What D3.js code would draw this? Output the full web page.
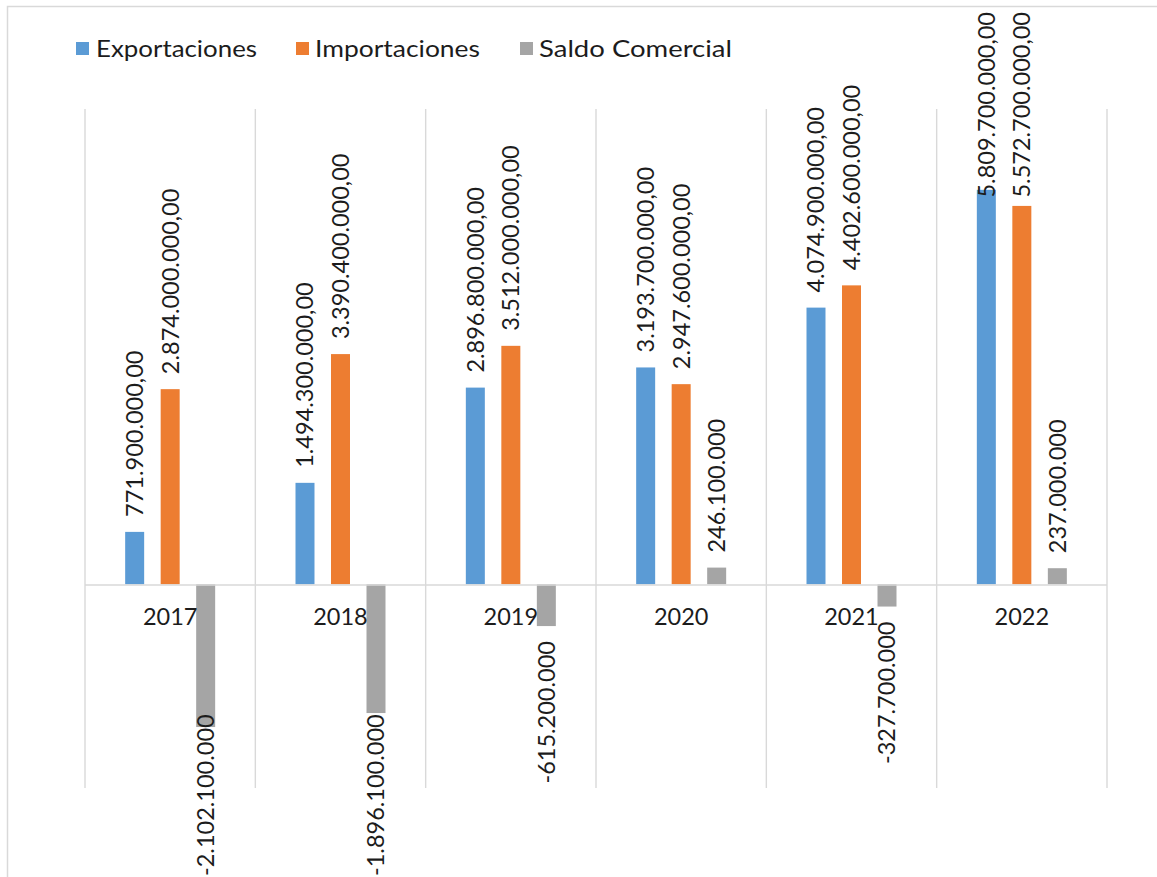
<!DOCTYPE html>
<html>
<head>
<meta charset="utf-8">
<script src="https://cdn.jsdelivr.net/npm/d3@7"></script>
<style>
  html, body { margin: 0; padding: 0; background: #fff; }
  svg { display: block; }
  text { font-family: "Century Gothic", "URW Gothic", Lato, "Noto Sans", sans-serif; fill: #1c1c1c; font-weight: 400; }
</style>
</head>
<body>
<svg id="chart" width="1157" height="877"></svg>
<script>
// ---- data ----
const years = ["2017", "2018", "2019", "2020", "2021", "2022"];
const seriesNames = ["Exportaciones", "Importaciones", "Saldo Comercial"];
const exportaciones = [771900000, 1494300000, 2896800000, 3193700000, 4074900000, 5809700000];
const importaciones = [2874000000, 3390400000, 3512000000, 2947600000, 4402600000, 5572700000];
const saldoComercial = [-2102100000, -1896100000, -615200000, 246100000, -327700000, 237000000];
const valueDomain = [-3000000000, 7000000000];
const labelDecimals = [2, 2, 0];
const colors = ["#5B9BD5", "#ED7D31", "#A5A5A5"];

const seriesValues = [exportaciones, importaciones, saldoComercial];

const svg = d3.select("#chart");

// chart border
svg.append("rect").attr("x", 7.5).attr("y", 6.5).attr("width", 1300).attr("height", 1000)
  .attr("fill", "none").attr("stroke", "#D9D9D9").attr("stroke-width", 1.5);

const locale = d3.formatLocale({ decimal: ",", thousands: ".", grouping: [3], currency: ["", ""], minus: "-" });
const fmts = labelDecimals.map(d => locale.format(",." + d + "f"));

const x0 = d3.scaleBand().domain(years).range([85, 1107]).paddingInner(0).paddingOuter(0);
const groupW = 90;
const off = (x0.bandwidth() - groupW) / 2;
const x1 = d3.scaleBand().domain(seriesNames).range([off, off + groupW]).paddingInner(0.465).paddingOuter(0);
const y = d3.scaleLinear().domain(valueDomain).range([788, 109]);

const grid = svg.append("g");
const bounds = years.map(yv => x0(yv)).concat([x0(years[years.length - 1]) + x0.bandwidth()]);
grid.selectAll("line").data(bounds).join("line")
  .attr("x1", d => d).attr("x2", d => d)
  .attr("y1", y(valueDomain[1])).attr("y2", y(valueDomain[0]))
  .attr("stroke", "#D9D9D9").attr("stroke-width", 1.4);

// bars
const bars = svg.append("g");
seriesNames.forEach((name, si) => {
  bars.selectAll(null).data(years).join("rect")
    .attr("x", (yr) => x0(yr) + x1(name))
    .attr("width", x1.bandwidth())
    .attr("y", (yr, i) => Math.min(y(seriesValues[si][i]), y(0)))
    .attr("height", (yr, i) => Math.abs(y(seriesValues[si][i]) - y(0)))
    .attr("fill", colors[si]);
});

// axis line
svg.append("line").attr("x1", 85).attr("x2", 1107).attr("y1", y(0) + 0.7).attr("y2", y(0) + 0.7)
  .attr("stroke", "#D9D9D9").attr("stroke-width", 1.4);

// category labels
svg.append("g").selectAll("text").data(years).join("text")
  .attr("x", d => x0(d) + x0.bandwidth() / 2)
  .attr("y", 625)
  .attr("text-anchor", "middle")
  .attr("font-size", 23.5)
  .text(d => d);

// data labels
const labels = svg.append("g");
const gap = 15, topLimit = 12, bottomLimit = 876;
seriesNames.forEach((name, si) => {
  years.forEach((yr, i) => {
    const v = seriesValues[si][i];
    const cx = x0(yr) + x1(name) + x1.bandwidth() / 2;
    const t = labels.append("text")
      .attr("font-size", 23.5)
      .attr("text-anchor", "start")
      .attr("dy", "0.36em")
      .text(fmts[si](v));
    const len = t.node().getComputedTextLength();
    let startY;
    if (v >= 0) {
      startY = y(v) - gap;
      if (startY - len < topLimit) startY = topLimit + len;
    } else {
      startY = y(v) + gap + len;
      if (startY > bottomLimit) startY = bottomLimit;
    }
    t.attr("transform", `translate(${cx},${startY}) rotate(-90)`);
  });
});

// legend
const legendItems = [
  { sx: 76, tx: 96, w: 161 },
  { sx: 296, tx: 315, w: 165 },
  { sx: 520, tx: 539, w: 193 }
];
const lg = svg.append("g");
seriesNames.forEach((name, i) => {
  lg.append("rect").attr("x", legendItems[i].sx).attr("y", 42).attr("width", 13).attr("height", 13).attr("fill", colors[i]);
  lg.append("text").attr("x", legendItems[i].tx).attr("y", 57).attr("font-size", 23.5)
    .attr("textLength", legendItems[i].w).attr("lengthAdjust", "spacingAndGlyphs").text(name);
});
</script>
</body>
</html>
